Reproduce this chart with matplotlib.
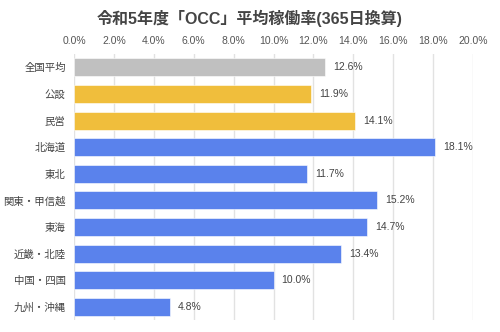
import matplotlib
matplotlib.use("Agg")
import matplotlib.pyplot as plt
from matplotlib.ticker import FuncFormatter, MultipleLocator

plt.rcParams["font.family"] = ["Liberation Sans", "Noto Sans CJK JP", "DejaVu Sans"]

# =========================
# DATA
# =========================

regions = [
    "全国平均", "公設", "民営", "北海道", "東北",
    "関東・甲信越", "東海", "近畿・北陸", "中国・四国", "九州・沖縄",
]

rates = [12.6, 11.9, 14.1, 18.1, 11.7, 15.2, 14.7, 13.4, 10.0, 4.8]

groups = ["avg", "type", "type", "area", "area", "area", "area", "area", "area", "area"]

group_colors = {
    "avg": "#C0C0C0",
    "type": "#F0BE3C",
    "area": "#5A82EC",
}

# =========================
# FIGURE
# =========================

fig = plt.figure(figsize=(5, 3.32), dpi=100)
ax = fig.add_axes([0.148, 0.036, 0.798, 0.801])

colors = [group_colors[g] for g in groups]
y = list(range(len(regions)))

ax.barh(
    y,
    rates,
    height=0.68,
    color=colors,
    edgecolor="white",
    linewidth=0.4,
    zorder=3,
)

# value labels
for yi, v in zip(y, rates):
    ax.text(
        v + 0.4,
        yi,
        f"{v:.1f}%",
        va="center",
        ha="left",
        fontsize=7.5,
        color="#444444",
    )

ax.set_xlim(0, 20)
ax.set_ylim(len(regions) - 0.5, -0.5)
ax.set_yticks(y)
ax.set_yticklabels(regions)

ax.xaxis.set_major_locator(MultipleLocator(2))
ax.xaxis.set_major_formatter(FuncFormatter(lambda x, pos: f"{x:.1f}%"))
ax.xaxis.tick_top()

ax.tick_params(axis="x", length=0, pad=6, labelsize=7.5, labelcolor="#555555")
ax.tick_params(axis="y", length=0, pad=6, labelsize=7.5, labelcolor="#444444")

ax.grid(axis="x", color="#E2E2E2", linewidth=1, zorder=0)
for s in ax.spines.values():
    s.set_visible(False)

fig.text(
    0.5,
    0.945,
    "令和5年度「OCC」平均稼働率(365日換算)",
    ha="center",
    va="center",
    fontsize=11.5,
    fontweight="bold",
    color="#444444",
)

fig.savefig("out.png", dpi=100)
